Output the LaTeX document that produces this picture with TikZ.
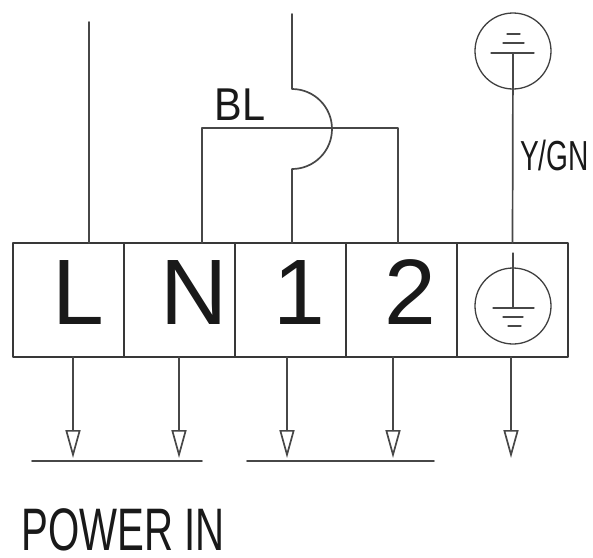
\documentclass[tikz,border=0pt]{standalone}
\usepackage{fontspec}
\setmainfont{Liberation Sans}
\newfontfamily\narrowfont[FakeStretch=0.67]{Liberation Sans}
\newfontfamily\semifont[FakeStretch=0.9]{Liberation Sans}
\usetikzlibrary{arrows.meta,positioning}

\begin{document}
\begin{tikzpicture}[x=1pt, y=-1pt, >={Triangle[open,length=28pt,width=15pt]}, line cap=round, line join=round,
	wire/.style={draw=black!72, line width=1.7pt},
	thin wire/.style={draw=black!72, line width=1.3pt},
	cell/.style={draw=black!78, line width=2.2pt, minimum width=111pt, minimum height=114pt, inner sep=0pt, outer sep=0pt},
	term/.style={anchor=base, inner sep=0pt, text=black!90, font=\fontsize{93}{93}\selectfont},
	ring/.style={circle, draw=black!75, line width=1.3pt, minimum size=76pt, inner sep=0pt, outer sep=0pt}]
	
	\useasboundingbox (0,0) rectangle (593,557);
	
	% Terminal block
	\node[cell] (L) at (68.5,300) {};
	\node[cell, right=0pt of L] (N) {};
	\node[cell, right=0pt of N] (one) {};
	\node[cell, right=0pt of one] (two) {};
	\node[cell, right=0pt of two] (PE) {};
	
	\node[term] (Ltext) at (78,324) {L};
	\node[term] (Ntext) at (194,324) {N};
	\node[term] (onetext) at (299,324) {1};
	\node[term] (twotext) at (410,324) {2};
	
	% earth symbol in the last cell
	\node[ring] (peterm) at (513,306) {};
	\draw[thin wire] (513,253) -- (513,308);
	\draw[thin wire] (493,308) -- (534,308);
	\draw[thin wire] (503,317) -- (523,317);
	\draw[thin wire] (508,326) -- (521,326);
	
	% Incoming wires
	\coordinate (Lin) at (89,22);
	\draw[wire] (Lin) -- (Lin |- L.north);
	
	\coordinate (onein) at (292,14);
	\coordinate (onejump) at (292,89);
	\draw[wire] (onein) -- (onejump) arc[start angle=90, end angle=-90, radius=40pt] -- (onejump |- one.north);
	
	\coordinate (blN) at (202,128);
	\coordinate (bltwo) at (398,128);
	\draw[wire] (N.north -| blN) -- (blN) -- (bltwo) -- (two.north -| bltwo);
	\node[font=\semifont\fontsize{46}{46}\selectfont, text=black!90, inner sep=0pt] (bl) at (240,105) {BL};
	
	% Earth wire
	\node[ring] (pe) at (513,51) {};
	\draw[thin wire] (491,53) -- (534,53);
	\draw[thin wire] (503,43) -- (524,43);
	\draw[thin wire] (507,34) -- (520,34);
	\draw[wire] (pe.center) ++(0,2) -- (PE.north);
	\node[font=\narrowfont\fontsize{42}{42}\selectfont, text=black!90, anchor=west, inner sep=0pt] (ygn) at (520,155) {Y/GN};
	
	% Outgoing wires
	\coordinate (Lout) at (73,458);
	\coordinate (Nout) at (179,458);
	\coordinate (oneout) at (287,458);
	\coordinate (twoout) at (393,458);
	\coordinate (PEout) at (511,458);
	\draw[wire,->] (L.south -| Lout) -- (Lout);
	\draw[wire,->] (N.south -| Nout) -- (Nout);
	\draw[wire,->] (one.south -| oneout) -- (oneout);
	\draw[wire,->] (two.south -| twoout) -- (twoout);
	\draw[wire,->] (PE.south -| PEout) -- (PEout);
	
	\coordinate (busA) at (32,461);
	\coordinate (busB) at (202,461);
	\coordinate (busC) at (247,461);
	\coordinate (busD) at (434,461);
	\draw[wire] (busA) -- (busB);
	\draw[wire] (busC) -- (busD);
	
	\node[font=\narrowfont\fontsize{60}{60}\selectfont, text=black!90, anchor=base west, inner sep=0pt] (power) at (21,550) {POWER IN};
	
\end{tikzpicture}
\end{document}
